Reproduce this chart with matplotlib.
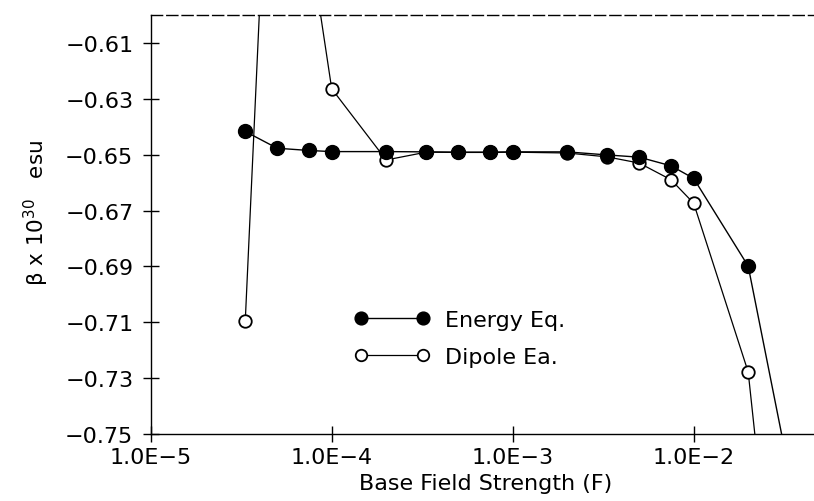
import matplotlib
matplotlib.use("Agg")
import matplotlib.pyplot as plt
from matplotlib.ticker import FixedLocator, FixedFormatter

# Data
field = [3.33e-5, 5e-5, 7.5e-5, 1e-4, 2e-4, 3.33e-4, 5e-4, 7.5e-4,
         1e-3, 2e-3, 3.33e-3, 5e-3, 7.5e-3, 1e-2, 2e-2, 3.33e-2]
energy_eq = [-0.6417, -0.6477, -0.6485, -0.6489, -0.6489, -0.6490, -0.6491, -0.6491,
             -0.6490, -0.6490, -0.6501, -0.6509, -0.6540, -0.6585, -0.6899, -0.7620]
dipole_eq = [-0.7095, -0.4600, -0.5726, -0.6264, -0.6519, -0.6491, -0.6492, -0.6492,
             -0.6491, -0.6494, -0.6508, -0.6530, -0.6590, -0.6674, -0.7278, -0.8620]

y_ticks = [-0.61, -0.63, -0.65, -0.67, -0.69, -0.71, -0.73, -0.75]
x_ticks = [1e-5, 1e-4, 1e-3, 1e-2]
x_tick_labels = ["1.0E\u22125", "1.0E\u22124", "1.0E\u22123", "1.0E\u22122"]

plt.rcParams['font.family'] = ['DejaVu Sans']

W, H = 814, 502
fig = plt.figure(figsize=(W / 100, H / 100), dpi=100)
ax_left, ax_right, ax_top, ax_bottom = 150.7, 814.0, 16.0, 435.0
ax = fig.add_axes([ax_left / W, 1 - ax_bottom / H, (ax_right - ax_left) / W, (ax_bottom - ax_top) / H])

ax.set_xscale('log')
ax.set_xlim(1e-5, 4.62e-2)
ax.set_ylim(-0.75, -0.60)

ax.plot(field, energy_eq, color='black', lw=1.0, marker='o', markersize=10,
        markerfacecolor='black', markeredgecolor='black', label='Energy Eq.', zorder=3)
ax.plot(field, dipole_eq, color='black', lw=0.9, marker='o', markersize=9,
        markerfacecolor='white', markeredgecolor='black', markeredgewidth=1.3,
        label='Dipole Ea.', zorder=2)

ax.xaxis.set_major_locator(FixedLocator(x_ticks))
ax.xaxis.set_major_formatter(FixedFormatter(x_tick_labels))
ax.xaxis.set_minor_locator(FixedLocator([]))
ax.yaxis.set_major_locator(FixedLocator(y_ticks))
ax.yaxis.set_major_formatter(FixedFormatter(["\u2212%.2f" % abs(v) for v in y_ticks]))

ax.tick_params(axis='both', direction='inout', length=11, width=1.0, labelsize=16, colors='black')
ax.tick_params(axis='y', pad=7)
ax.tick_params(axis='x', pad=4)

for s in ['left', 'bottom']:
    ax.spines[s].set_linewidth(1.0)
ax.spines['top'].set_linewidth(1.0)
ax.spines['top'].set_linestyle((0, (8, 3)))
ax.spines['right'].set_visible(False)

ax.set_xlabel("Base Field Strength (F)", fontsize=16, labelpad=3)
ax.xaxis.set_label_coords((486 - ax_left) / (ax_right - ax_left), (ax_bottom - 484) / (ax_bottom - ax_top))
ax.xaxis.label.set_va('center')

ax.set_ylabel("\u03b2 x 10$^{30}$   esu", fontsize=15.5)
ax.yaxis.set_label_coords((36 - ax_left) / (ax_right - ax_left), (ax_bottom - 213) / (ax_bottom - ax_top))
ax.yaxis.label.set_va('center')

leg = ax.legend(loc='upper left',
                bbox_to_anchor=((354 - ax_left) / (ax_right - ax_left), (ax_bottom - 311) / (ax_bottom - ax_top)),
                frameon=False, numpoints=2, handlelength=3.4, handletextpad=0.7,
                labelspacing=0.75, borderpad=0, borderaxespad=0, fontsize=16, markerscale=0.92)

fig.savefig("out.png", dpi=100)
